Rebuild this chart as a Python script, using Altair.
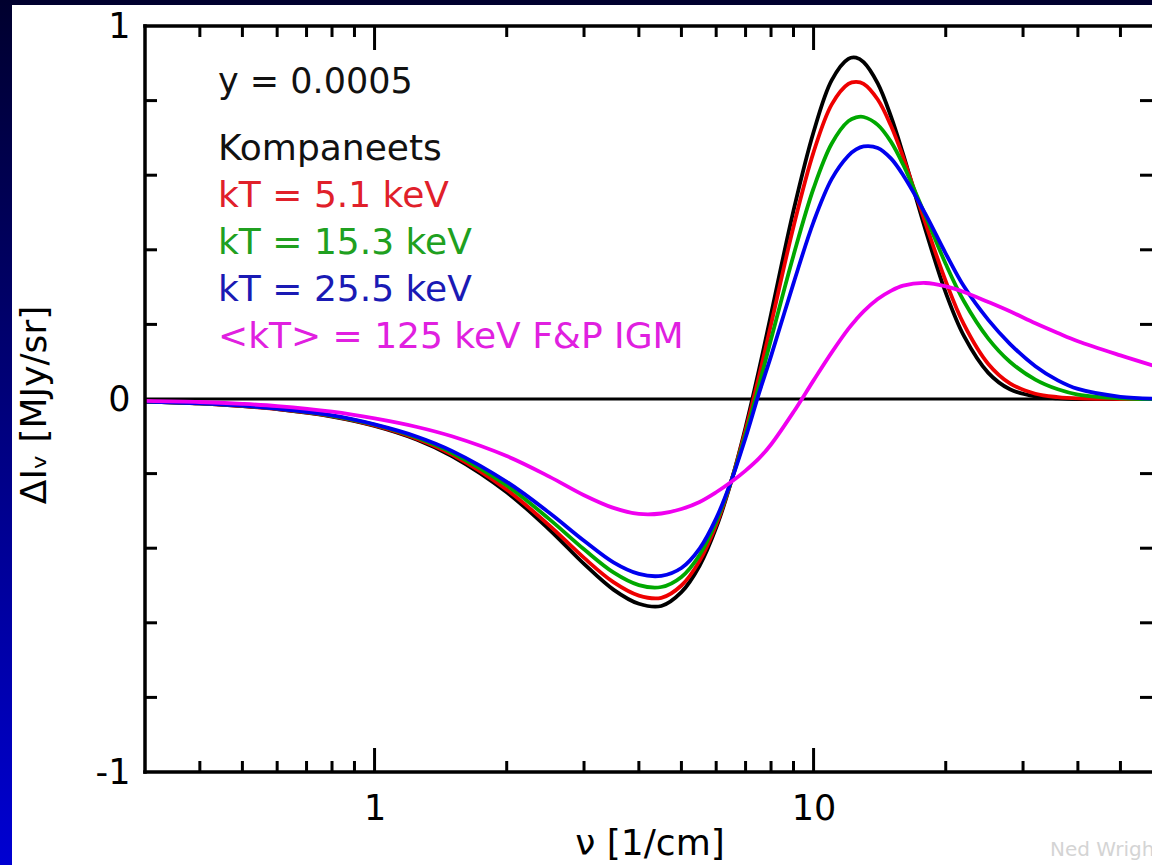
import altair as alt
import pandas as pd

# ---------------- data ----------------
nu = [0.3, 0.4, 0.5, 0.6, 0.8, 1.0, 1.25, 1.5, 2.0, 2.5, 3.0, 3.5, 4.0, 4.5, 5.0, 5.5,
      6.0, 6.5, 7.0, 7.5, 8.0, 9.0, 10, 11, 12, 12.5, 13, 14, 15, 16, 18, 20, 22, 25,
      28, 32, 36, 40, 50, 60]

kompaneets = [-0.007, -0.012, -0.019, -0.027, -0.047, -0.072, -0.109, -0.153, -0.250, -0.350,
              -0.442, -0.511, -0.549, -0.555, -0.518, -0.447, -0.345, -0.219, -0.076, 0.075,
              0.227, 0.505, 0.716, 0.855, 0.912, 0.915, 0.903, 0.846, 0.758, 0.656,
              0.452, 0.285, 0.169, 0.070, 0.026, 0.007, 0.002, 0.0, 0.0, 0.0]

kt_5_1 = [-0.007, -0.012, -0.019, -0.027, -0.046, -0.071, -0.107, -0.149, -0.243, -0.339,
          -0.426, -0.491, -0.527, -0.533, -0.500, -0.434, -0.338, -0.218, -0.083, 0.058,
          0.200, 0.462, 0.662, 0.790, 0.845, 0.850, 0.845, 0.803, 0.733, 0.648,
          0.470, 0.316, 0.200, 0.094, 0.042, 0.014, 0.005, 0.0015, 0.0, 0.0]

kt_15_3 = [-0.007, -0.012, -0.018, -0.026, -0.045, -0.069, -0.104, -0.144, -0.232, -0.322,
           -0.403, -0.465, -0.499, -0.504, -0.477, -0.418, -0.329, -0.218, -0.094, 0.034,
           0.160, 0.385, 0.565, 0.685, 0.745, 0.755, 0.756, 0.735, 0.690, 0.628,
           0.490, 0.362, 0.262, 0.162, 0.100, 0.052, 0.026, 0.012, 0.002, 0.0]

kt_25_5 = [-0.007, -0.012, -0.018, -0.026, -0.044, -0.068, -0.101, -0.139, -0.222, -0.305,
           -0.380, -0.438, -0.469, -0.474, -0.453, -0.401, -0.320, -0.218, -0.104, 0.013,
           0.115, 0.310, 0.475, 0.590, 0.652, 0.669, 0.677, 0.673, 0.645, 0.600,
           0.495, 0.390, 0.302, 0.212, 0.148, 0.088, 0.050, 0.027, 0.006, 0.001]

kt_125_igm = [-0.005, -0.008, -0.013, -0.019, -0.034, -0.052, -0.075, -0.100, -0.153, -0.208,
              -0.258, -0.292, -0.308, -0.307, -0.295, -0.276, -0.250, -0.222, -0.192, -0.160,
              -0.122, -0.035, 0.050, 0.125, 0.188, 0.213, 0.235, 0.268, 0.290, 0.304,
              0.311, 0.302, 0.287, 0.260, 0.235, 0.203, 0.177, 0.155, 0.117, 0.088]

series_names = ["Kompaneets", "kT = 5.1 keV", "kT = 15.3 keV", "kT = 25.5 keV",
                "<kT> = 125 keV F&P IGM"]
series_values = [kompaneets, kt_5_1, kt_15_3, kt_25_5, kt_125_igm]

x_major_ticks = [1, 10]
x_minor_ticks = [0.4, 0.5, 0.6, 0.7, 0.8, 0.9, 2, 3, 4, 5, 6, 7, 8, 9, 20, 30, 40, 50]
y_minor_ticks = [-0.8, -0.6, -0.4, -0.2, 0.2, 0.4, 0.6, 0.8]
x_labels = [1, 10]
y_labels = [-1, 0, 1]
zero_level = [0]

legend_header = "y = 0.0005"
x_title = "ν [1/cm]"
y_title = "ΔIᵥ [MJy/sr]"
credit = "Ned Wright"

# ---------------- styling ----------------
FONT = "DejaVu Sans"
W, H = 1007, 746
PAD_L, PAD_T, PAD_B = 145, 26, 93
line_colors = ["#000000", "#ee0000", "#00a800", "#0000ee", "#f000f0"]
text_colors = ["#111111", "#e0202a", "#20a020", "#1a1ab4", "#e020e0"]

rows = []
for name, vals in zip(series_names, series_values):
    for n, v in zip(nu, vals):
        rows.append({"nu": n, "value": v, "series": name})
df = pd.DataFrame(rows)

xs = alt.Scale(type="log", domain=[0.3, 59], nice=False)
ys = alt.Scale(domain=[-1, 1], nice=False, zero=False)

x_axis = alt.Axis(values=x_labels, title=None, grid=False, ticks=False, tickSize=0, domain=False,
                  labelFont=FONT, labelFontSize=35, labelColor="black", labelPadding=19,
                  labelFlush=False, labelExpr="datum.value + ''", labelOverlap=False, zindex=2)
y_axis = alt.Axis(values=y_labels, title=None, grid=False, ticks=False, tickSize=0, domain=False,
                  labelFont=FONT, labelFontSize=35, labelColor="black", labelPadding=15,
                  labelFlush=False, labelExpr="datum.value + ''", labelOverlap=False, zindex=2)

one = pd.DataFrame({"a": [0]})

# background: blue gradient border, white figure
bg = alt.Chart(one).mark_rect(
    fill={"gradient": "linear", "x1": 0, "y1": 0, "x2": 0, "y2": 1,
          "stops": [{"offset": 0, "color": "#00002e"},
                    {"offset": 1, "color": "#0000d2"}]}
).encode(x=alt.value(-PAD_L), x2=alt.value(W + 10), y=alt.value(-PAD_T), y2=alt.value(H + PAD_B))
white = alt.Chart(one).mark_rect(fill="white").encode(
    x=alt.value(-PAD_L + 12), x2=alt.value(W + 10), y=alt.value(-PAD_T + 5), y2=alt.value(H + PAD_B))

layers = [bg, white]

# zero line
zdf = pd.DataFrame({"z": zero_level})
layers.append(alt.Chart(zdf).mark_rule(color="black", strokeWidth=3).encode(
    y=alt.Y("z:Q", scale=ys, axis=y_axis), x=alt.value(0), x2=alt.value(W)))

# curves
for name, col in zip(series_names, line_colors):
    layers.append(
        alt.Chart(df).transform_filter(alt.datum.series == name)
        .mark_line(color=col, strokeWidth=3.8, interpolate="catmull-rom", clip=True)
        .encode(x=alt.X("nu:Q", scale=xs, axis=x_axis),
                y=alt.Y("value:Q", scale=ys, axis=y_axis))
    )

# inward ticks
xmaj = pd.DataFrame({"v": x_major_ticks})
xmin = pd.DataFrame({"v": x_minor_ticks})
ymin = pd.DataFrame({"v": y_minor_ticks})
tick = dict(color="black", strokeWidth=3)
for d, L in [(xmaj, 24), (xmin, 11)]:
    layers.append(alt.Chart(d).mark_rule(**tick).encode(
        x=alt.X("v:Q", scale=xs, axis=x_axis), y=alt.value(H), y2=alt.value(H - L)))
    layers.append(alt.Chart(d).mark_rule(**tick).encode(
        x=alt.X("v:Q", scale=xs, axis=x_axis), y=alt.value(0), y2=alt.value(L)))
layers.append(alt.Chart(ymin).mark_rule(**tick).encode(
    y=alt.Y("v:Q", scale=ys, axis=y_axis), x=alt.value(0), x2=alt.value(12)))
layers.append(alt.Chart(ymin).mark_rule(**tick).encode(
    y=alt.Y("v:Q", scale=ys, axis=y_axis), x=alt.value(W - 12), x2=alt.value(W)))

# frame (left, top, bottom; right edge lies at the canvas border)
frame = dict(color="black", strokeWidth=3.5, strokeCap="square")
layers.append(alt.Chart(one).mark_rule(**frame).encode(x=alt.value(0), y=alt.value(0), y2=alt.value(H)))
layers.append(alt.Chart(one).mark_rule(**frame).encode(y=alt.value(0), x=alt.value(0), x2=alt.value(W + 5)))
layers.append(alt.Chart(one).mark_rule(**frame).encode(y=alt.value(H), x=alt.value(0), x2=alt.value(W + 5)))

# legend text
def txt(s, x, y, size, color, **kw):
    return alt.Chart(one).mark_text(text=s, font=FONT, fontSize=size, color=color, **kw).encode(
        x=alt.value(x), y=alt.value(y))

lx = 218 - PAD_L
layers.append(txt(legend_header, lx, 93 - PAD_T, 35, "#111111", align="left", baseline="alphabetic"))
for i, (name, col) in enumerate(zip(series_names, text_colors)):
    layers.append(txt(name, lx, 160 - PAD_T + 47 * i, 36, col, align="left", baseline="alphabetic"))

# axis titles
layers.append(txt(x_title, 650 - PAD_L, 855 - PAD_T, 36, "black", align="center", baseline="alphabetic"))
layers.append(txt(y_title, 35 - PAD_L, 405 - PAD_T, 36, "black", align="center", baseline="middle", angle=270))
# credit
layers.append(txt(credit, 1050 - PAD_L, 856 - PAD_T, 20, "#d4d4d4", align="left", baseline="alphabetic"))

chart = alt.layer(*layers).properties(
    width=W, height=H,
    autosize=alt.AutoSizeParams(type="none"),
    padding={"left": PAD_L, "top": PAD_T, "right": 0, "bottom": PAD_B},
    background="white",
).configure_view(stroke=None)

chart.save("out.html", embed_options={"renderer": "svg", "actions": False})
